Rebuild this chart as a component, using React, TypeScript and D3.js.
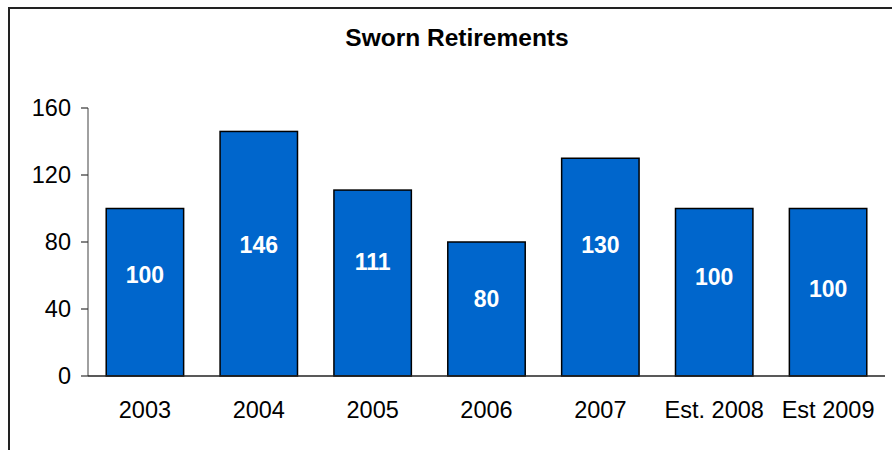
import React from "react";
import * as d3 from "d3";

const categories = ["2003", "2004", "2005", "2006", "2007", "Est. 2008", "Est 2009"];
const retirements = [100, 146, 111, 80, 130, 100, 100];
// vertical anchor of each value label, in data units (labels were placed by hand in the original)
const labelAnchors = [60.3, 78.2, 68, 46, 78.2, 59.1, 52];
const yTicks = [0, 40, 80, 120, 160];
const title = "Sworn Retirements";

const W = 892;
const H = 450;
const FONT = "'Liberation Sans', Arial, Helvetica, sans-serif";

export default function App() {
  const x = d3.scaleBand<string>().domain(categories).range([88, 885]).paddingInner(0.32).paddingOuter(0.16);
  const y = d3.scaleLinear().domain([0, 160]).range([376, 108]);

  return (
    <svg
      width={W}
      height={H}
      style={{ position: "absolute", left: 0, top: 0, background: "#fff" }}
    >
      <rect x={0} y={0} width={W} height={H} fill="#fff" />
      {/* outer frame */}
      <rect x={9} y={8} width={W + 20} height={H + 20} fill="none" stroke="#222" strokeWidth={2} />
      <text x={457} y={37} textAnchor="middle" dominantBaseline="central" fontFamily={FONT} fontWeight="bold" fontSize={24.5} fill="#000">
        {title}
      </text>

      {/* bars */}
      {retirements.map((v, i) => (
        <rect
          key={categories[i]}
          x={x(categories[i])!}
          y={y(v)}
          width={x.bandwidth()}
          height={y(0) - y(v)}
          fill="#0066CC"
          stroke="#000"
          strokeWidth={1.5}
        />
      ))}

      {/* y axis */}
      <line x1={88} x2={88} y1={y(160)} y2={y(0)} stroke="#808080" strokeWidth={1.5} />
      {yTicks.map((t) => (
        <g key={t}>
          <line x1={81} x2={88} y1={y(t)} y2={y(t)} stroke="#333" strokeWidth={1.2} />
          <text x={71} y={y(t)} textAnchor="end" dominantBaseline="central" fontFamily={FONT} fontSize={23.5} fill="#000">
            {t}
          </text>
        </g>
      ))}

      {/* x axis */}
      <line x1={88} x2={885} y1={y(0)} y2={y(0)} stroke="#222" strokeWidth={1.5} />
      {categories.map((c) => (
        <text key={c} x={x(c)! + x.bandwidth() / 2} y={410} textAnchor="middle" dominantBaseline="central" fontFamily={FONT} fontSize={23.5} fill="#000">
          {c}
        </text>
      ))}

      {/* value labels */}
      {retirements.map((v, i) => (
        <text
          key={"l" + i}
          x={x(categories[i])! + x.bandwidth() / 2}
          y={y(labelAnchors[i])}
          textAnchor="middle"
          dominantBaseline="central"
          fontFamily={FONT}
          fontWeight="bold"
          fontSize={23}
          fill="#fff"
        >
          {v}
        </text>
      ))}
    </svg>
  );
}
